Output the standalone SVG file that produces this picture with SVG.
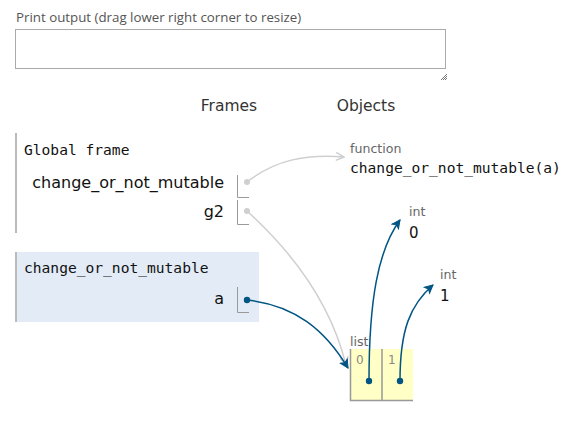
<svg xmlns="http://www.w3.org/2000/svg" width="570" height="441" viewBox="0 0 570 441">
<style>
.sans{font-family:"Open Sans","DejaVu Sans",sans-serif}
.dv{font-family:"DejaVu Sans","Open Sans",sans-serif}
.mono{font-family:"DejaVu Sans Mono","Liberation Mono",monospace}
.lbl{font-size:13.3px;fill:#555}
.hdr{font-size:15.5px;fill:#333}
.var{font-size:16px;fill:#111}
.fname{font-size:14.6px;fill:#111}
.type{font-size:12.6px;fill:#666}
.val{font-size:15px;fill:#111}
.idx{font-size:12px;fill:#888}
.ptrbox{fill:none;stroke:#999;stroke-width:1}
.gray{fill:none;stroke:#cfcfcf;stroke-width:1.5}
.blue{fill:none;stroke:#005583;stroke-width:1.5}
</style>
<defs>
<marker id="ag" markerWidth="10" markerHeight="10" refX="9" refY="5" orient="auto" markerUnits="userSpaceOnUse">
<path d="M1,1 L9,5 L1,9" fill="none" stroke="#cfcfcf" stroke-width="1.5"/>
</marker>
<marker id="ab" markerWidth="10" markerHeight="10" refX="9" refY="5" orient="auto" markerUnits="userSpaceOnUse">
<path d="M1,1 L9,5 L1,9 L3,5 Z" fill="#005583" stroke="#005583" stroke-width="1"/>
</marker>
</defs>
<rect width="570" height="441" fill="#fff"/>
<g id="print-output">
<text x="16" y="22" class="sans lbl">Print output (drag lower right corner to resize)</text>
<rect x="15.5" y="29.5" width="430" height="39" fill="#fff" stroke="#aaa"/>
<path d="M441,80 L447,74 M443,80 L447,76 M445,80 L447,78" stroke="#777" stroke-width="1"/>
</g>
<g id="headers">
<text x="229" y="111" class="dv hdr" text-anchor="middle">Frames</text>
<text x="366" y="111" class="dv hdr" text-anchor="middle">Objects</text>
</g>
<g id="global-frame">
<line x1="16" y1="133" x2="16" y2="233" stroke="#bbb" stroke-width="2"/>
<text x="24" y="155" class="mono fname">Global frame</text>
<text x="224" y="188" class="dv var" text-anchor="end">change_or_not_mutable</text>
<path d="M237.5,175 V197.5 H249" class="ptrbox"/>
<circle cx="247" cy="182" r="3" fill="#cfcfcf"/>
<text x="224" y="217" class="dv var" text-anchor="end">g2</text>
<path d="M237.5,200 V224.5 H249" class="ptrbox"/>
<circle cx="247" cy="211" r="3" fill="#cfcfcf"/>
</g>
<g id="frame-change_or_not_mutable">
<rect x="15" y="252" width="244" height="70" fill="#e2ebf6"/>
<line x1="16" y1="252" x2="16" y2="322" stroke="#bbb" stroke-width="2"/>
<text x="24" y="273" class="mono fname">change_or_not_mutable</text>
<text x="224" y="304" class="dv var" text-anchor="end">a</text>
<path d="M237.5,287 V312.5 H249" class="ptrbox"/>
<circle cx="247" cy="300" r="3.2" fill="#005583"/>
</g>
<g id="obj-function">
<text x="350" y="153" class="dv type">function</text>
<text x="350" y="173" class="mono fname">change_or_not_mutable(a)</text>
</g>
<g id="obj-int0">
<text x="409" y="216" class="dv type">int</text>
<text x="409" y="238" class="dv val">0</text>
</g>
<g id="obj-int1">
<text x="440" y="279" class="dv type">int</text>
<text x="440" y="301" class="dv val">1</text>
</g>
<g id="obj-list">
<text x="350" y="346" class="dv type">list</text>
<rect x="350" y="349" width="63" height="51" fill="#ffffc6"/>
<path d="M350.5,349 V400.5 H413" fill="none" stroke="#999" stroke-width="1.5"/>
<line x1="382" y1="349" x2="382" y2="400" stroke="#999" stroke-width="1.5"/>
<text x="356" y="364" class="dv idx">0</text>
<text x="388" y="364" class="dv idx">1</text>
</g>
<g id="connectors">
<path d="M247,182 C275,160 305,154 344,157" class="gray" marker-end="url(#ag)"/>
<path d="M247,211 C290,250 330,300 346,365" class="gray" marker-end="url(#ag)"/>
<path d="M247,300 C295,305 325,330 348,368" class="blue" marker-end="url(#ab)"/>
<path d="M369,381 C369,300 378,250 400,220" class="blue" marker-end="url(#ab)"/>
<circle cx="369" cy="381" r="3.2" fill="#005583"/>
<path d="M400,381 C400,330 410,305 433,285" class="blue" marker-end="url(#ab)"/>
<circle cx="400" cy="381" r="3.2" fill="#005583"/>
</g>
</svg>
